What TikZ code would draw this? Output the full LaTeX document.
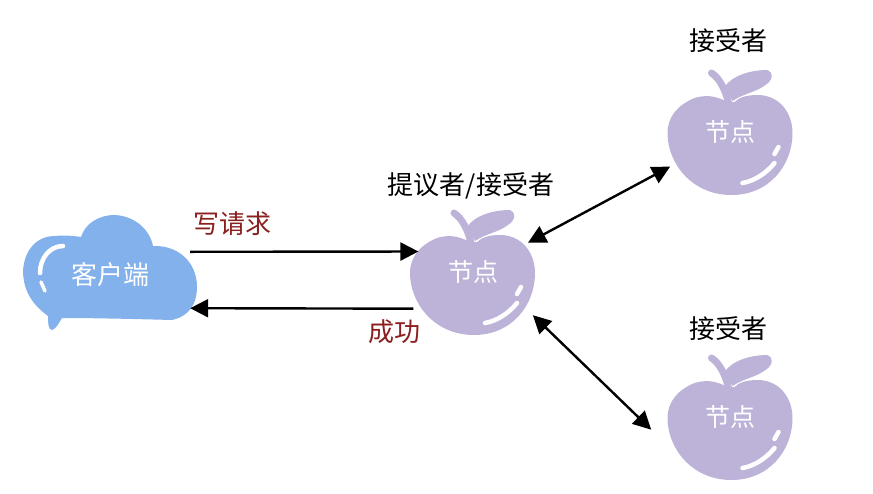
\documentclass[tikz,border=0pt]{standalone}
\usepackage{fontspec}
\setmainfont{Noto Sans CJK SC}
\usetikzlibrary{arrows.meta}
\definecolor{applecolor}{HTML}{BDB3D9}
\definecolor{cloudcolor}{HTML}{83B1EC}
\definecolor{redtext}{HTML}{8B1F1F}

\begin{document}
\begin{tikzpicture}[x=1pt,y=-1pt,
    block_text/.style ={font=\fontsize{26}{30}\selectfont, text=black, inner sep=0pt},
    block_red/.style ={block_text, text=redtext},
    block_white/.style ={block_text, text=white},
    block_apple/.style ={circle, draw=none, minimum size=126pt, inner sep=0pt},
    block_client/.style ={rectangle, draw=none, minimum width=160pt, minimum height=56pt, inner sep=0pt},
    shine/.style ={draw=white, line width=4.5pt, line cap=round},
    line/.style ={draw, line width=2.4pt, -{Triangle[length=18pt,width=18pt]}},
    both_line/.style ={draw, line width=2.4pt, {Triangle[length=18pt,width=18pt]}-{Triangle[length=18pt,width=18pt]}},
    apple/.pic={
      \fill[applecolor] (-2,-43) .. controls (-15,-50) and (-25,-50) .. (-35,-47)
        .. controls (-52,-40) and (-62,-28) .. (-62,-12)
        .. controls (-62,18) and (-38,50) .. (2,50)
        .. controls (40,50) and (63,20) .. (63,-12)
        .. controls (63,-32) and (50,-50) .. (28,-50)
        .. controls (18,-50) and (10,-48) .. (5,-43) -- cycle;
      \draw[applecolor, line width=7pt, line cap=round] (-1,-42) .. controls (-4,-55) and (-10,-67) .. (-18,-72);
      \fill[applecolor] (-5,-58) .. controls (3,-70) and (22,-75) .. (38,-75)
        .. controls (44,-73) and (44,-65) .. (36,-60)
        .. controls (25,-52) and (15,-52) .. (3,-44) -- cycle;
      \draw[shine] (13,38) .. controls (25,36) and (37,28) .. (45,18);
      \draw[shine] (45,9) -- (49,2);
    }]
    \useasboundingbox (0,0) rectangle (873,493);
    % cloud of the client
    \fill[cloudcolor] (48,316) .. controls (30,303) and (23,288) .. (23,270)
      .. controls (25,248) and (38,236) .. (55,236)
      .. controls (65,235) and (75,236) .. (81,237)
      .. controls (85,224) and (98,215) .. (115,215)
      .. controls (135,216) and (150,230) .. (153,246)
      .. controls (178,245) and (197,262) .. (197,287)
      .. controls (197,303) and (190,316) .. (172,320)
      .. controls (135,319) and (95,318) .. (62,318)
      .. controls (59,323) and (56,329) .. (52,330)
      .. controls (48,330) and (48,322) .. (48,316) -- cycle;
    \draw[shine] (63,246) .. controls (50,246) and (40,258) .. (40,273);
    \draw[shine, line width=3.5pt] (41,282) -- (45,291);
    % the three apples
    \path (472,285) pic {apple};
    \path (729.5,145) pic {apple};
    \path (729.5,430) pic {apple};
    % outlining the nodes
    \node [block_client] (client) at (110,280) {};
    \node [block_white] (client_text) at (110,275) {客户端};
    \node [block_apple] (proposer) at (472,285) {};
    \node [block_white, font=\fontsize{25}{30}\selectfont] (proposer_text) at (473,272) {节点};
    \node [block_apple] (acceptor1) at (729.5,145) {};
    \node [block_white, font=\fontsize{25}{30}\selectfont] (acceptor1_text) at (730,132) {节点};
    \node [block_apple] (acceptor2) at (729.5,430) {};
    \node [block_white, font=\fontsize{25}{30}\selectfont] (acceptor2_text) at (730,417) {节点};
    % labels
    \node [block_text] (proposer_label) at (471,186) {提议者/接受者};
    \node [block_text] (acceptor1_label) at (728,41) {接受者};
    \node [block_text] (acceptor2_label) at (728,329) {接受者};
    \node [block_red] (write_label) at (232,224) {写请求};
    \node [block_red] (ok_label) at (394,332) {成功};
    % connecting nodes with paths
    \path[line] (client.north east) -- (proposer.148.6);
    \path[line] (proposer.202) -- (client.south east);
    \path[both_line, shorten <=7pt] (proposer.38) -- (acceptor1.200);
    \path[both_line, shorten <=5pt, shorten >=24pt] (proposer.335) -- (acceptor2.195);
\end{tikzpicture}
\end{document}
